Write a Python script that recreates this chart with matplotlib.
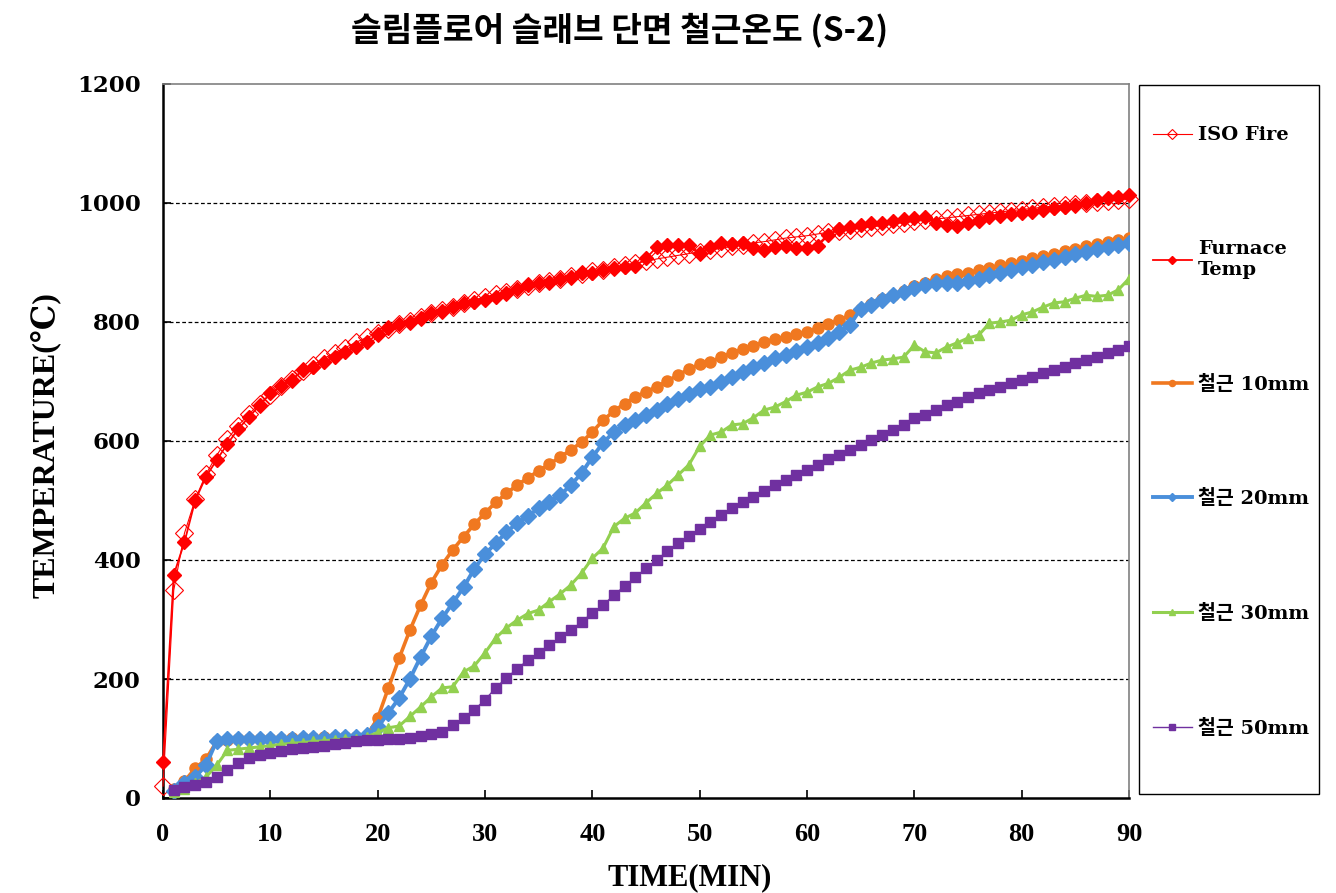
import matplotlib
matplotlib.use('Agg')
import matplotlib.pyplot as plt
import matplotlib.patches as patches
import numpy as np

# time axis (min)
minutes = np.arange(0, 91)
steel_minutes = np.arange(1, 91)

iso_fire = [20, 349, 445, 502, 544, 576, 603, 626, 645, 663,
            678, 693, 705, 717, 728, 739, 748, 757, 766, 774,
            781, 789, 796, 802, 809, 815, 820, 826, 832, 837,
            842, 847, 851, 856, 860, 865, 869, 873, 877, 881,
            885, 888, 892, 896, 899, 902, 906, 909, 912, 915,
            918, 921, 924, 927, 930, 933, 935, 938, 941, 943,
            945, 948, 951, 953, 955, 958, 960, 962, 965, 967,
            969, 971, 973, 975, 977, 979, 981, 983, 985, 987,
            989, 991, 993, 995, 996, 998, 1000, 1002, 1004, 1005,
            1006]

furnace = [60, 375, 430, 500, 540, 568, 595, 620, 640, 660,
           680, 692, 702, 719, 724, 733, 741, 750, 758, 766,
           780, 790, 796, 800, 806, 815, 819, 825, 832, 834,
           837, 842, 849, 855, 862, 866, 867, 872, 876, 882,
           883, 887, 890, 892, 894, 907, 926, 929, 929, 929,
           916, 926, 932, 931, 933, 924, 921, 926, 928, 924,
           924, 928, 946, 956, 960, 963, 966, 966, 970, 973,
           975, 976, 966, 963, 961, 966, 970, 976, 978, 981,
           983, 985, 988, 991, 993, 997, 1000, 1005, 1008, 1010,
           1013]

steel_10 = [15, 28, 50, 65, 95, 98, 99, 100, 100, 100,
            100, 101, 101, 101, 102, 102, 102, 103, 105, 134,
            185, 235, 282, 324, 362, 392, 417, 439, 460, 479,
            497, 512, 526, 538, 550, 561, 573, 585, 598, 615,
            635, 650, 663, 674, 683, 691, 701, 711, 721, 729,
            733, 741, 748, 754, 760, 766, 771, 775, 780, 783,
            790, 797, 803, 812, 822, 830, 838, 845, 852, 860,
            866, 872, 877, 880, 883, 887, 891, 895, 899, 903,
            907, 911, 915, 919, 923, 927, 931, 934, 937, 941]

steel_20 = [12, 25, 35, 55, 96, 99, 100, 100, 100, 100,
            100, 100, 101, 101, 101, 102, 102, 103, 106, 119,
            143, 168, 200, 237, 272, 302, 328, 354, 385, 410,
            428, 447, 462, 474, 487, 498, 509, 526, 546, 573,
            597, 615, 627, 635, 644, 652, 662, 671, 679, 687,
            691, 699, 708, 716, 725, 731, 739, 745, 751, 758,
            764, 773, 784, 795, 822, 828, 837, 845, 850, 857,
            863, 865, 866, 866, 869, 873, 879, 882, 887, 892,
            896, 901, 904, 909, 914, 918, 922, 926, 929, 933]

steel_30 = [10, 15, 25, 35, 55, 80, 82, 84, 86, 88,
            90, 92, 93, 95, 96, 98, 99, 100, 103, 110,
            118, 121, 137, 153, 170, 185, 187, 212, 222, 244,
            269, 286, 299, 310, 316, 330, 343, 358, 378, 403,
            420, 456, 470, 479, 496, 512, 526, 543, 560, 591,
            610, 615, 627, 629, 639, 652, 657, 666, 677, 682,
            691, 697, 707, 719, 724, 731, 736, 738, 741, 761,
            750, 748, 758, 765, 773, 778, 798, 800, 803, 812,
            817, 825, 832, 834, 840, 845, 843, 845, 854, 873]

steel_50 = [13, 19, 22, 27, 35, 47, 59, 67, 72, 76,
            79, 82, 84, 86, 88, 90, 92, 95, 97, 98,
            99, 100, 101, 104, 107, 111, 122, 134, 148, 165,
            185, 202, 217, 232, 244, 257, 270, 282, 296, 311,
            324, 341, 356, 371, 386, 400, 415, 429, 440, 452,
            464, 476, 487, 497, 506, 516, 526, 534, 543, 551,
            560, 570, 576, 585, 593, 602, 610, 618, 627, 638,
            644, 652, 660, 666, 674, 680, 686, 691, 697, 703,
            708, 714, 719, 725, 731, 736, 741, 748, 753, 760]

x_ticks = [0, 10, 20, 30, 40, 50, 60, 70, 80, 90]
y_ticks = [0, 200, 400, 600, 800, 1000, 1200]

serif_kr = ['DejaVu Serif', 'Noto Sans CJK KR']

fig = plt.figure(figsize=(13.36, 8.93), dpi=100)
ax = fig.add_axes([163 / 1336, 95 / 893, 966 / 1336, 714 / 893])

ax.plot(minutes, iso_fire, color='#FF0000', lw=0.8, marker='D', ms=9,
        mfc='none', mec='#FF0000', mew=0.8, label='ISO Fire', clip_on=False, zorder=3)
ax.plot(minutes, furnace, color='#FF0000', lw=1.3, marker='D', ms=7.5,
        mfc='#FF0000', mec='#FF0000', label='Furnace\nTemp', clip_on=False, zorder=4)
ax.plot(steel_minutes, steel_10, color='#F07820', lw=2.6, marker='o', ms=8,
        label='철근 10mm', zorder=5)
ax.plot(steel_minutes, steel_20, color='#4A8FDB', lw=2.8, marker='D', ms=8,
        label='철근 20mm', zorder=6)
ax.plot(steel_minutes, steel_30, color='#92D050', lw=2.2, marker='^', ms=7.5,
        label='철근 30mm', zorder=7)
ax.plot(steel_minutes, steel_50, color='#7030A0', lw=1.0, marker='s', ms=7.5,
        label='철근 50mm', zorder=8)

ax.set_xlim(0, 90)
ax.set_ylim(0, 1200)
ax.set_xticks(x_ticks)
ax.set_yticks(y_ticks)
ax.tick_params(axis='both', direction='in', length=6, width=1.2)
ax.tick_params(axis='x', pad=18)
ax.tick_params(axis='y', pad=16)
for lab in ax.get_xticklabels():
    lab.set_family(['Liberation Serif'])
    lab.set_fontweight('bold')
    lab.set_fontsize(19)
for lab in ax.get_yticklabels():
    lab.set_family(['DejaVu Serif'])
    lab.set_fontweight('bold')
    lab.set_fontsize(16.5)

# grid lines, skip the bottom and top ones
ax.yaxis.grid(True, linestyle=(0, (3, 2)), color='black', lw=0.9)
gl = ax.yaxis.get_gridlines()
gl[0].set_visible(False)
gl[-1].set_visible(False)

for side in ['left', 'bottom']:
    ax.spines[side].set_linewidth(1.8)
    ax.spines[side].set_color('black')
for side in ['top', 'right']:
    ax.spines[side].set_linewidth(1.2)
    ax.spines[side].set_color('#808080')

# titles and labels
fig.text(620 / 1336, 1 - 30 / 893, '슬림플로어 슬래브 단면 철근온도 (S-2)',
         family=['Noto Sans CJK KR'], fontweight='bold', fontsize=24,
         ha='center', va='center')
fig.text(690 / 1336, 1 - 878 / 893, 'TIME(MIN)', family=['Liberation Serif'],
         fontweight='bold', fontsize=22, ha='center', va='center')
fig.text(45 / 1336, 1 - 445 / 893, 'TEMPERATURE(℃)',
         family=['Liberation Serif', 'DejaVu Serif'], fontweight='bold',
         fontsize=23, rotation=90, ha='center', va='center')

# legend frame
fig.patches.append(patches.Rectangle((1139 / 1336, 1 - 794 / 893), 180 / 1336, 709 / 893,
                                     transform=fig.transFigure, fill=False,
                                     edgecolor='black', lw=1.0))
ax.legend(loc='center left', bbox_to_anchor=(1153 / 1336, 1 - 432 / 893),
          bbox_transform=fig.transFigure, frameon=False,
          prop={'family': serif_kr, 'weight': 'bold', 'size': 14},
          labelspacing=4.92, handlelength=2.0, handletextpad=0.3,
          borderpad=0, borderaxespad=0, markerscale=0.55)

fig.savefig('out.png', dpi=100)
